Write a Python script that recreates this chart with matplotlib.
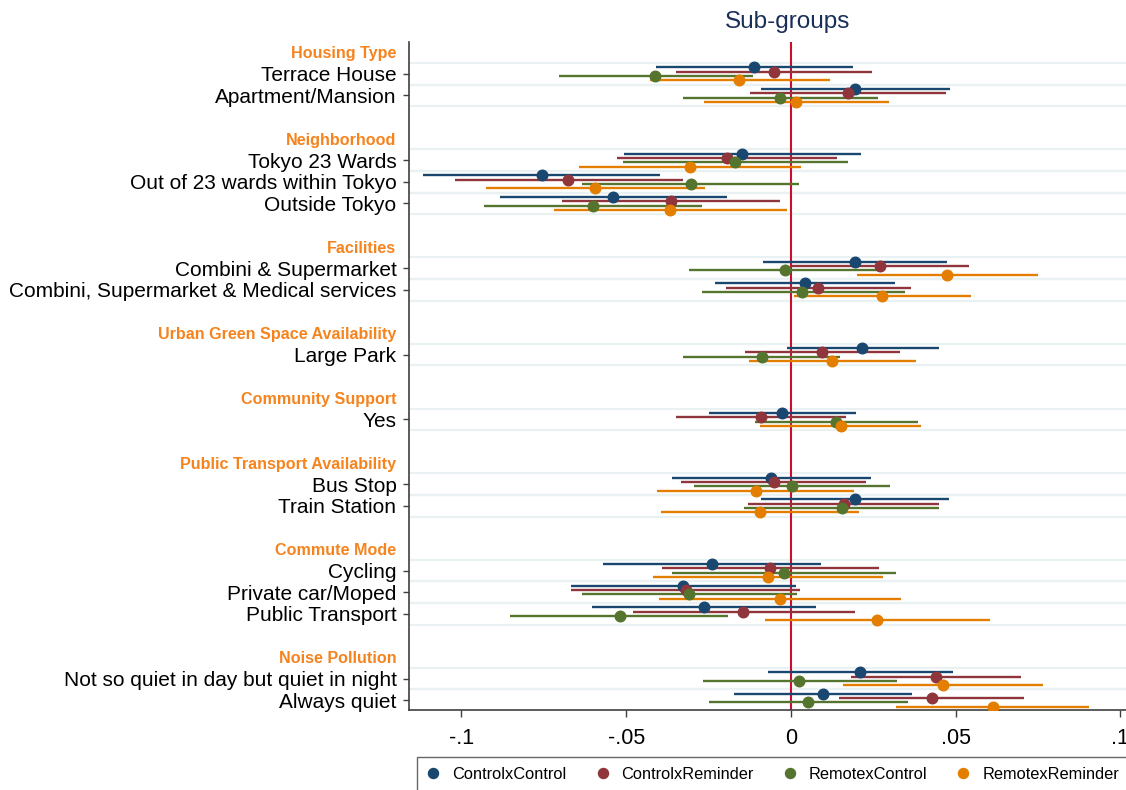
import numpy as np
import matplotlib.pyplot as plt

plt.rcParams['font.family'] = ['Liberation Sans', 'DejaVu Sans']

# groups and their row labels
groups = ["Housing Type", "Neighborhood", "Facilities", "Urban Green Space Availability",
          "Community Support", "Public Transport Availability", "Commute Mode", "Noise Pollution"]
group_rows = [
    ["Terrace House", "Apartment/Mansion"],
    ["Tokyo 23 Wards", "Out of 23 wards within Tokyo", "Outside Tokyo"],
    ["Combini & Supermarket", "Combini, Supermarket & Medical services"],
    ["Large Park"],
    ["Yes"],
    ["Bus Stop", "Train Station"],
    ["Cycling", "Private car/Moped", "Public Transport"],
    ["Not so quiet in day but quiet in night", "Always quiet"],
]

series = ["ControlxControl", "ControlxReminder", "RemotexControl", "RemotexReminder"]
colors = ["#1a476f", "#90353b", "#55752f", "#e37e00"]

cc_pt = [-0.0112, 0.0195, -0.0148, -0.0755, -0.0540, 0.0195, 0.0043, 0.0217, -0.0026,
         -0.0061, 0.0194, -0.0239, -0.0326, -0.0264, 0.0210, 0.0098]
cc_lo = [-0.0409, -0.0091, -0.0507, -0.1115, -0.0884, -0.0085, -0.0229, -0.0012, -0.0248,
         -0.0361, -0.0090, -0.0570, -0.0667, -0.0605, -0.0071, -0.0173]
cc_hi = [0.0188, 0.0483, 0.0212, -0.0397, -0.0195, 0.0475, 0.0316, 0.0448, 0.0199,
         0.0242, 0.0481, 0.0092, 0.0015, 0.0077, 0.0491, 0.0367]

cr_pt = [-0.0052, 0.0173, -0.0195, -0.0676, -0.0365, 0.0270, 0.0082, 0.0095, -0.0092,
         -0.0051, 0.0161, -0.0062, -0.0319, -0.0144, 0.0440, 0.0427]
cr_lo = [-0.0348, -0.0124, -0.0527, -0.1020, -0.0696, 0.0004, -0.0197, -0.0138, -0.0350,
         -0.0333, -0.0130, -0.0392, -0.0667, -0.0480, 0.0183, 0.0147]
cr_hi = [0.0245, 0.0471, 0.0139, -0.0328, -0.0032, 0.0541, 0.0364, 0.0331, 0.0166,
         0.0229, 0.0450, 0.0268, 0.0028, 0.0195, 0.0698, 0.0706]

rc_pt = [-0.0411, -0.0032, -0.0170, -0.0304, -0.0601, -0.0019, 0.0035, -0.0088, 0.0137,
         0.0004, 0.0154, -0.0022, -0.0309, -0.0520, 0.0026, 0.0053]
rc_lo = [-0.0704, -0.0326, -0.0511, -0.0633, -0.0931, -0.0308, -0.0271, -0.0326, -0.0108,
         -0.0295, -0.0142, -0.0362, -0.0635, -0.0851, -0.0267, -0.0250]
rc_hi = [-0.0116, 0.0264, 0.0172, 0.0026, -0.0270, 0.0273, 0.0345, 0.0150, 0.0387,
         0.0301, 0.0450, 0.0319, 0.0019, -0.0190, 0.0321, 0.0356]

rr_pt = [-0.0157, 0.0016, -0.0306, -0.0594, -0.0366, 0.0475, 0.0277, 0.0126, 0.0151,
         -0.0106, -0.0095, -0.0071, -0.0033, 0.0262, 0.0462, 0.0612]
rr_lo = [-0.0429, -0.0265, -0.0643, -0.0924, -0.0720, 0.0200, 0.0008, -0.0127, -0.0095,
         -0.0405, -0.0393, -0.0420, -0.0399, -0.0079, 0.0159, 0.0319]
rr_hi = [0.0119, 0.0297, 0.0032, -0.0262, -0.0012, 0.0750, 0.0547, 0.0381, 0.0396,
         0.0193, 0.0206, 0.0279, 0.0333, 0.0603, 0.0765, 0.0906]

pts = [cc_pt, cr_pt, rc_pt, rr_pt]
los = [cc_lo, cr_lo, rc_lo, rr_lo]
his = [cc_hi, cr_hi, rc_hi, rr_hi]

# slot positions: header, rows, blank gap
row_pos, head_pos = [], []
slot = 0
for rows in group_rows:
    head_pos.append(slot)
    slot += 1
    for r in rows:
        row_pos.append(slot)
        slot += 1
    slot += 1
row_pos = np.array(row_pos, dtype=float)
row_labels = [r for rows in group_rows for r in rows]

fig = plt.figure(figsize=(11.26, 7.9), dpi=100)
ax = fig.add_axes([409/1126, 1 - 710/790, 1 - 409/1126, (710 - 42)/790])

# light separators between rows
for y in row_pos:
    ax.axhline(y - 0.5, color="#eaf1f3", lw=1.6, zorder=0)
    ax.axhline(y + 0.5, color="#eaf1f3", lw=1.6, zorder=0)

ax.axvline(0, color="#c8102e", lw=1.5, zorder=1)

offsets = [-0.3, -0.1, 0.1, 0.3]
for k in range(4):
    y = row_pos + offsets[k]
    ax.hlines(y, los[k], his[k], color=colors[k], lw=1.7, zorder=2)
    ax.plot(pts[k], y, "o", color=colors[k], ms=7.6, zorder=3, label=series[k])

ax.set_xlim(-0.1159, 0.1017)
ax.set_ylim(30.45, -0.47)

ax.set_xticks([-0.1, -0.05, 0, 0.05, 0.1])
ax.set_xticklabels(["-.1", "-.05", "0", ".05", ".1"])

ticks = list(row_pos) + head_pos
labels = row_labels + groups
ax.set_yticks(ticks)
ax.set_yticklabels(labels)
n_rows = len(row_pos)
for i, (t, lab) in enumerate(zip(ax.yaxis.get_major_ticks(), ax.get_yticklabels())):
    if i >= n_rows:
        t.tick1line.set_visible(False)
        lab.set_color("#f5841f")
        lab.set_fontweight("bold")
        lab.set_fontsize(11.6)
    else:
        lab.set_fontsize(15)

ax.tick_params(axis="y", length=4, width=1, color="#404040", pad=5)
ax.tick_params(axis="x", length=5, width=1, color="#404040", labelsize=15.5, pad=8)

for s in ["top", "right"]:
    ax.spines[s].set_visible(False)
for s in ["left", "bottom"]:
    ax.spines[s].set_color("#404040")
    ax.spines[s].set_linewidth(1.2)

fig.text(788/1126, 1 - 22/790, "Sub-groups", color="#1a2e5a", fontsize=17.5,
         ha="center", va="center")

leg = fig.legend(loc="upper left", bbox_to_anchor=(417/1126, 1 - 757/790), ncol=4,
                 fontsize=11.8, frameon=True, fancybox=False, edgecolor="#404040",
                 handlelength=0.8, handletextpad=0.75, columnspacing=1.8,
                 borderpad=0.6, borderaxespad=0, markerscale=0.95)
leg.get_frame().set_linewidth(1.0)

fig.savefig("out.png", dpi=100)
